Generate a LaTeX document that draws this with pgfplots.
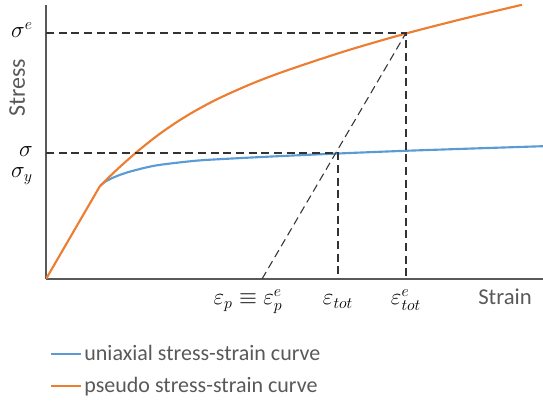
\documentclass[border=0pt]{standalone}
\usepackage{pgfplots}
\pgfplotsset{compat=1.18}
\usepackage{fontspec}
\setmainfont{Carlito}
\definecolor{cblue}{HTML}{5B9BD5}
\definecolor{corange}{HTML}{ED7D31}
\definecolor{tgray}{HTML}{595959}
\begin{document}
\begin{tikzpicture}[x=1pt,y=1pt]
\path[use as bounding box] (-34.5,-96) rectangle (372.75,209.25);
\begin{axis}[
  at={(0,0)}, anchor=south west,
  scale only axis, width=372.75pt, height=205.5pt,
  xmin=0, xmax=497, ymin=0, ymax=274,
  axis x line*=bottom, axis y line*=left,
  axis line style={draw=tgray, line width=1.2pt, -},
  major tick length=0pt,
  xtick={202,292,360,459},
  xticklabels={{$\varepsilon_p\equiv\varepsilon_p^e$},{$\varepsilon_{tot}$},{$\varepsilon_{tot}^e$},{\fontsize{17}{20}\selectfont\color{tgray}Strain}},
  xticklabel style={anchor=base, inner sep=0pt, yshift=-19.5pt, font=\fontsize{18}{21}\selectfont},
  ytick={101,122,241},
  yticklabels={{$\sigma_y$},{$\sigma$},{$\sigma^e$}},
  yticklabel style={anchor=base east, inner sep=0pt, xshift=-9.75pt, font=\fontsize{18}{21}\selectfont},
  ylabel={Stress},
  ylabel style={at={(axis description cs:-0.058,0.697)}, anchor=center, font=\fontsize{18}{21}\selectfont, color=tgray},
  legend style={at={(axis description cs:0.008,-0.235)}, anchor=north west, draw=none, fill=none,
    font=\fontsize{16.5}{19.5}\selectfont\color{tgray}, inner sep=0pt, row sep=7.8pt,
    nodes={inner sep=1.5pt}},
  legend cell align=left,
  legend image code/.code={\draw[#1, line width=1.6pt] (0pt,0pt) -- (22.5pt,0pt);},
]
\addplot[cblue, line width=1.6pt, smooth, tension=0.5] coordinates {
  (54,93) (60,97.8) (70,102.6) (82,106.8) (100,111.5) (115,114.3) (149,118.2) (177,120) (230,122.7) (292,125.5) (354,128) (424,130.4) (497,132.8)};
\addlegendentry{uniaxial stress-strain curve}
\addplot[corange, line width=1.6pt, smooth, tension=0.5] coordinates {
  (54,93) (70,108.5) (89,125.5) (110,142.4) (130,156.4) (150,168.6) (174,181.2) (207,195.8) (241,208.6) (300,228.1) (360,245.5) (420,260.9) (476,274.2)};
\addlegendentry{pseudo stress-strain curve}
\addplot[corange, line width=1.6pt, forget plot] coordinates {(0,0) (54,93)};
\addplot[black!80, line width=0.8pt, dash pattern=on 6pt off 3.5pt, forget plot] coordinates {(0,246) (360,246) (360,0)};
\addplot[black!80, line width=0.8pt, dash pattern=on 6pt off 3.5pt, forget plot] coordinates {(0,126) (292,126) (292,0)};
\addplot[black!80, line width=0.8pt, dash pattern=on 6pt off 3.5pt, forget plot] coordinates {(216,0) (360,246)};
\end{axis}
\end{tikzpicture}
\end{document}
